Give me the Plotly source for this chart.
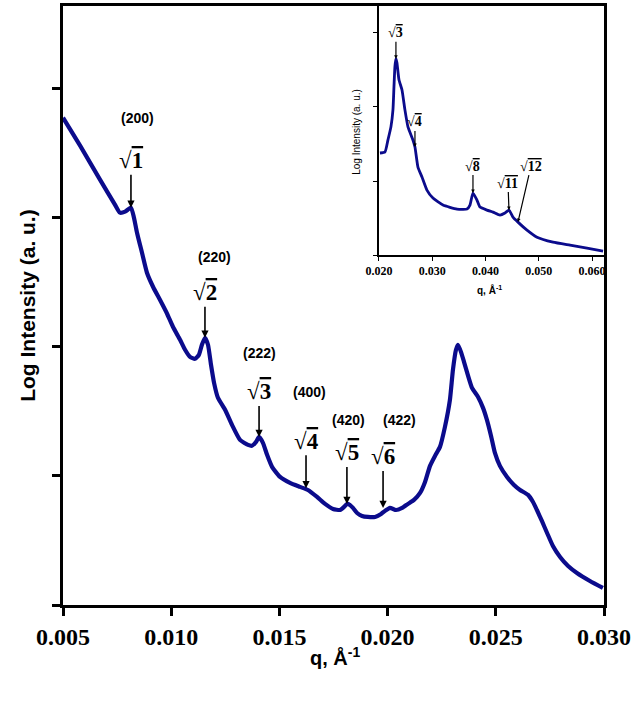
import plotly.graph_objects as go

# ---------------- data ----------------
main_q = [0.00500, 0.00579, 0.00671, 0.00740, 0.00763, 0.00787, 0.00814, 0.00828, 0.00842,
          0.00865, 0.00888, 0.00916, 0.00948, 0.00981, 0.01008, 0.01041, 0.01064, 0.01087,
          0.01110, 0.01128, 0.01142, 0.01156, 0.01170, 0.01184, 0.01198, 0.01216, 0.01249,
          0.01281, 0.01318, 0.01355, 0.01373, 0.01392, 0.01406, 0.01424, 0.01443, 0.01466,
          0.01503, 0.01549, 0.01595, 0.01632, 0.01674, 0.01711, 0.01748, 0.01780, 0.01799,
          0.01812, 0.01826, 0.01840, 0.01859, 0.01882, 0.01909, 0.01942, 0.01970, 0.01988,
          0.02011, 0.02039, 0.02067, 0.02094, 0.02122, 0.02150, 0.02173, 0.02196, 0.02219,
          0.02242, 0.02265, 0.02288, 0.02302, 0.02316, 0.02325, 0.02339, 0.02353, 0.02372,
          0.02390, 0.02418, 0.02441, 0.02459, 0.02478, 0.02496, 0.02519, 0.02552, 0.02584,
          0.02612, 0.02649, 0.02672, 0.02690, 0.02713, 0.02737, 0.02764, 0.02797, 0.02834,
          0.02875, 0.02935, 0.02995]
main_logI = [3.775, 3.558, 3.295, 3.101, 3.039, 3.047, 3.078, 3.000, 2.884,
             2.729, 2.574, 2.465, 2.364, 2.256, 2.155, 2.054, 1.977, 1.922,
             1.907, 1.938, 2.016, 2.070, 2.016, 1.860, 1.721, 1.605, 1.512,
             1.395, 1.279, 1.240, 1.233, 1.264, 1.302, 1.256, 1.163, 1.070,
             0.992, 0.946, 0.915, 0.891, 0.837, 0.783, 0.744, 0.736, 0.760,
             0.783, 0.775, 0.752, 0.713, 0.690, 0.682, 0.682, 0.705, 0.729,
             0.752, 0.736, 0.752, 0.783, 0.814, 0.868, 0.953, 1.078, 1.155,
             1.225, 1.380, 1.589, 1.822, 1.977, 2.016, 1.961, 1.884, 1.775,
             1.682, 1.612, 1.527, 1.434, 1.310, 1.178, 1.078, 0.992, 0.930,
             0.891, 0.853, 0.798, 0.736, 0.651, 0.558, 0.457, 0.372, 0.302,
             0.248, 0.186, 0.132]

inset_q = [0.02019, 0.02113, 0.02169, 0.02225, 0.02263, 0.02282, 0.02300, 0.02319, 0.02338,
           0.02376, 0.02432, 0.02488, 0.02545, 0.02638, 0.02676, 0.02732, 0.02808, 0.02901,
           0.03014, 0.03202, 0.03465, 0.03653, 0.03709, 0.03765, 0.03840, 0.03897, 0.04028,
           0.04141, 0.04272, 0.04366, 0.04441, 0.04516, 0.04610, 0.04779, 0.04967, 0.05268,
           0.05587, 0.05906, 0.06207]
inset_logI = [1.378, 1.392, 1.554, 1.730, 1.959, 2.270, 2.541, 2.649, 2.595,
              2.365, 2.230, 1.959, 1.730, 1.554, 1.459, 1.189, 1.054, 0.878,
              0.770, 0.676, 0.622, 0.622, 0.676, 0.838, 0.743, 0.649, 0.608,
              0.581, 0.541, 0.568, 0.608, 0.514, 0.446, 0.338, 0.243, 0.176,
              0.135, 0.095, 0.054]

main_xticks = [0.005, 0.010, 0.015, 0.020, 0.025, 0.030]
main_yticks = [0, 1, 2, 3, 4]
inset_xticks = [0.020, 0.030, 0.040, 0.050, 0.060]
inset_yticks = [0, 1, 2, 3]

# peak labels (main): miller index, sqrt label, arrow tip (q, logI)
main_hkl = ["(200)", "(220)", "(222)", "(400)", "(420)", "(422)"]
main_sqrt = ["1", "2", "3", "4", "5", "6"]
main_peak_q = [0.00814, 0.01156, 0.01406, 0.01623, 0.01812, 0.01979]
main_peak_I = [3.078, 2.070, 1.302, 0.905, 0.783, 0.752]

inset_sqrt = ["3", "4", "8", "11", "12"]
inset_peak_q = [0.02319, 0.02676, 0.03765, 0.04441, 0.04610]
inset_peak_I = [2.649, 1.459, 0.838, 0.608, 0.446]

# ---------------- layout constants ----------------
W, H = 636, 703
ML, MR, MT, MB = 63, 32, 6, 98
NAVY = "#0B0B8C"
SERIF = "Liberation Serif"
SANS = "Liberation Sans"

fig = go.Figure()
fig.add_trace(go.Scatter(x=main_q, y=main_logI, mode="lines",
                         line=dict(color=NAVY, width=4.2, shape="spline", smoothing=0.5),
                         xaxis="x", yaxis="y", showlegend=False, hoverinfo="skip"))
fig.add_trace(go.Scatter(x=inset_q, y=inset_logI, mode="lines",
                         line=dict(color=NAVY, width=2.8, shape="spline", smoothing=0.5),
                         xaxis="x2", yaxis="y2", showlegend=False, hoverinfo="skip"))

axis_common = dict(showline=True, linecolor="black", mirror=True, showgrid=False,
                   zeroline=False, ticks="outside", tickcolor="black", automargin=False)

fig.update_layout(
    width=W, height=H,
    margin=dict(l=ML, r=MR, t=MT, b=MB, autoexpand=False),
    paper_bgcolor="white", plot_bgcolor="white",
    xaxis=dict(domain=[0, 1], range=[0.005, 0.030], tickvals=main_xticks,
               tickformat=".3f", linewidth=2.6, ticklen=8, tickwidth=2.6,
               tickfont=dict(family=SERIF, size=24, color="black", weight="bold"), **axis_common),
    yaxis=dict(domain=[0, 1], range=[0, 4.64], tickvals=main_yticks, showticklabels=False,
               linewidth=2.6, ticklen=8, tickwidth=2.6, **axis_common),
    xaxis2=dict(domain=[0.584, 1], anchor="y2", range=[0.020, 0.06225], tickvals=inset_xticks,
                tickformat=".3f", linewidth=1.6, ticklen=4, tickwidth=1.3,
                tickfont=dict(family=SERIF, size=12, color="black", weight="bold"), **axis_common),
    yaxis2=dict(domain=[0.584, 1], anchor="x2", range=[0, 3.36], tickvals=inset_yticks,
                showticklabels=False, linewidth=1.6, ticklen=4, tickwidth=1.3, **axis_common),
)

ann = []
# axis titles
ann.append(dict(xref="paper", yref="paper", x=0.503, y=-0.086, text="<b>q, Å<sup>-1</sup></b>",
                showarrow=False, font=dict(family=SANS, size=20, color="black"),
                xanchor="center", yanchor="middle"))
ann.append(dict(xref="paper", yref="paper", x=-0.066, y=0.5, text="<b>Log Intensity (a. u.)</b>",
                showarrow=False, textangle=-90, font=dict(family=SANS, size=21, color="black"),
                xanchor="center", yanchor="middle"))
ann.append(dict(xref="paper", yref="paper", x=0.789, y=0.526, text="<b>q, Å<sup>-1</sup></b>",
                showarrow=False, font=dict(family=SANS, size=10, color="black"),
                xanchor="center", yanchor="middle"))
ann.append(dict(xref="paper", yref="paper", x=0.5434, y=0.79, text="Log Intensity (a. u.)",
                showarrow=False, textangle=-90, font=dict(family=SANS, size=10, color="black"),
                xanchor="center", yanchor="middle"))

# main: miller index labels (positions of text)
hkl_pos = [(0.00842, 3.775), (0.01202, 2.698), (0.01406, 1.953),
           (0.01637, 1.651), (0.01817, 1.434), (0.02057, 1.434)]
for lab, (hx, hy) in zip(main_hkl, hkl_pos):
    ann.append(dict(xref="x", yref="y", x=hx, y=hy, text="<b>" + lab + "</b>", showarrow=False,
                    font=dict(family=SANS, size=14, color="black")))

OVER = '<span style="text-decoration:overline">'
# main: sqrt labels with arrows
main_ay = [-47, -45, -45, -47, -51, -51]
for s, px, py, ay in zip(main_sqrt, main_peak_q, main_peak_I, main_ay):
    ann.append(dict(xref="x", yref="y", x=px, y=py, text="<b>√" + OVER + s + "</span></b>",
                    showarrow=True, ax=0, ay=ay, arrowhead=2, arrowsize=0.9, arrowwidth=1.6,
                    arrowcolor="black", standoff=0,
                    font=dict(family=SERIF, size=23, color="black")))

# inset: sqrt labels with arrows
inset_ax = [0, 0, 0, -1, 13]
inset_ay = [-26, -25, -27, -27, -56]
for s, px, py, ax_, ay in zip(inset_sqrt, inset_peak_q, inset_peak_I, inset_ax, inset_ay):
    ann.append(dict(xref="x2", yref="y2", x=px, y=py, text="<b>√" + OVER + s + "</span></b>",
                    showarrow=True, ax=ax_, ay=ay, arrowhead=2, arrowsize=0.6, arrowwidth=1.2,
                    arrowcolor="black", standoff=0,
                    font=dict(family=SERIF, size=14, color="black")))

fig.update_layout(annotations=ann)
fig.write_html("out.html", config={"displayModeBar": False},
               post_script="document.body.style.margin='0';")
